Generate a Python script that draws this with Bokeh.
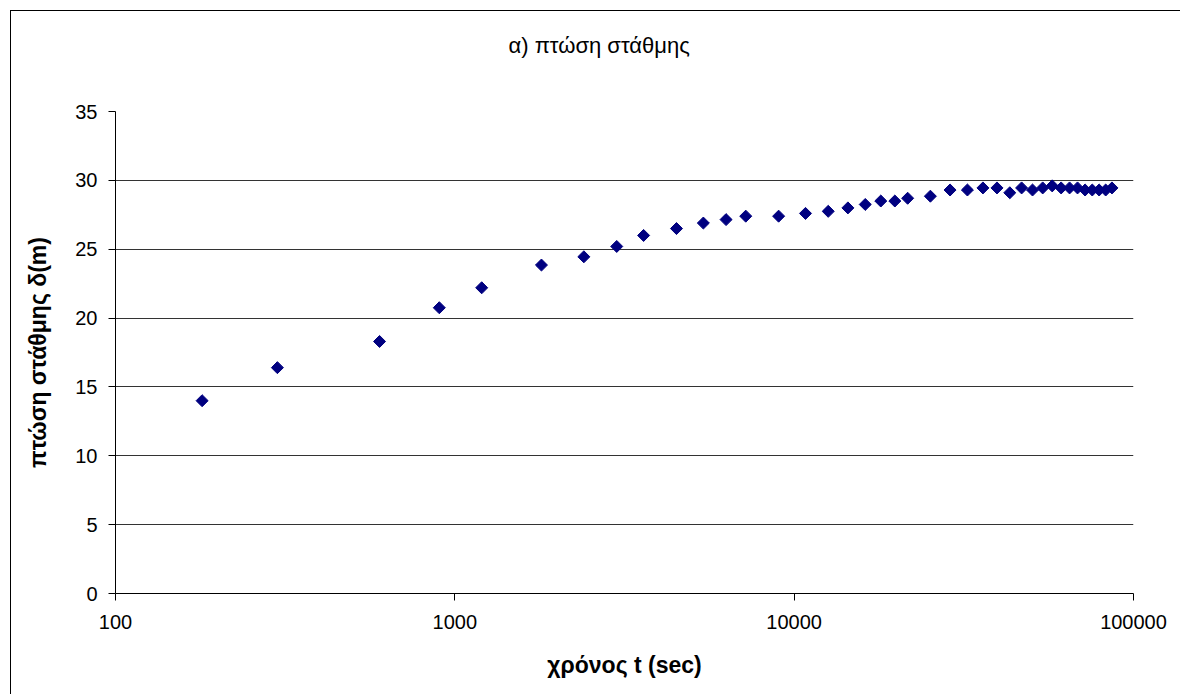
import numpy as np
from bokeh.plotting import figure
from bokeh.models import Range1d, FixedTicker, LogAxis
from bokeh.embed import file_html
from bokeh.resources import INLINE

# ---- data ----
time_s = [180, 300, 600, 900, 1200, 1800, 2400, 3000, 3600, 4500, 5400, 6300, 7200,
          9000, 10800, 12600, 14400, 16200, 18000, 19800, 21600, 25200, 28800, 32400,
          36000, 39600, 43200, 46800, 50400, 54000, 57600, 61200, 64800, 68400, 72000,
          75600, 79200, 82800, 86400]
drawdown_m = [14.0, 16.4, 18.3, 20.75, 22.2, 23.85, 24.45, 25.2, 26.0, 26.5, 26.9, 27.15, 27.4,
              27.4, 27.6, 27.75, 28.0, 28.25, 28.5, 28.5, 28.7, 28.85, 29.3, 29.3,
              29.45, 29.45, 29.1, 29.45, 29.3, 29.45, 29.6, 29.45, 29.45, 29.45, 29.3,
              29.3, 29.3, 29.3, 29.45]
x_ticks = [100, 1000, 10000, 100000]
x_tick_labels = ["100", "1000", "10000", "100000"]
y_ticks = [0, 5, 10, 15, 20, 25, 30, 35]

title_text = "α) πτώση στάθμης"
x_label = "χρόνος t (sec)"
y_label = "πτώση στάθμης δ(m)"

FONT = "Liberation Sans"

p = figure(width=1170, height=684, x_axis_type="log",
           x_range=Range1d(100, 100000), y_range=Range1d(0, 35),
           output_backend="svg", toolbar_location=None,
           min_border_left=104, min_border_right=48,
           min_border_top=100, min_border_bottom=102)
p.margin = (10, 0, 0, 10)
p.styles = {"border-left": "1px solid #000000", "border-top": "1px solid #000000"}

p.outline_line_color = None
p.background_fill_color = "white"
p.border_fill_color = "white"

xax = p.below[0]
yax = p.left[0]

# invisible spacer above the frame so that the title sits higher:
# one tick inside the range (not drawn) with an empty label
spacer = LogAxis(ticker=FixedTicker(ticks=[1000], minor_ticks=[]),
                 major_label_overrides={1000: ""},
                 axis_line_color=None, major_tick_line_color=None,
                 minor_tick_line_color=None, major_tick_in=0, major_tick_out=54,
                 minor_tick_in=0, minor_tick_out=0, major_label_standoff=0)
p.add_layout(spacer, "above")

# title
p.title.text = title_text
p.title.text_font = FONT
p.title.text_font_size = "22px"
p.title.text_font_style = "normal"
p.title.text_color = "black"
p.title.align = "left"
p.title.offset = 393
p.title.standoff = 0

# grid
p.xgrid.grid_line_color = None
p.ygrid.grid_line_color = "#333333"
p.ygrid.grid_line_width = 1
p.ygrid.ticker = FixedTicker(ticks=y_ticks)

# axes
xax.ticker = FixedTicker(ticks=x_ticks, minor_ticks=[])
xax.major_label_overrides = {t: lab for t, lab in zip(x_ticks, x_tick_labels)}
yax.ticker = FixedTicker(ticks=y_ticks, minor_ticks=[])

for ax in (xax, yax):
    ax.axis_line_color = "black"
    ax.major_tick_line_color = "black"
    ax.major_tick_in = 0
    ax.major_tick_out = 7
    ax.minor_tick_line_color = None
    ax.major_label_text_font = FONT
    ax.major_label_text_font_size = "20px"
    ax.major_label_text_color = "black"
    ax.axis_label_text_font = FONT
    ax.axis_label_text_font_size = "23px"
    ax.axis_label_text_font_style = "bold"
    ax.axis_label_text_color = "black"

xax.axis_label = x_label
yax.axis_label = y_label
xax.major_label_standoff = 14
yax.major_label_standoff = 11
xax.axis_label_standoff = 20
yax.axis_label_standoff = 21

p.scatter(time_s, drawdown_m, marker="square", angle=np.pi / 4, size=8.5,
          fill_color="#000080", line_color="#000080")

open("out.html", "w").write(file_html(p, INLINE))
